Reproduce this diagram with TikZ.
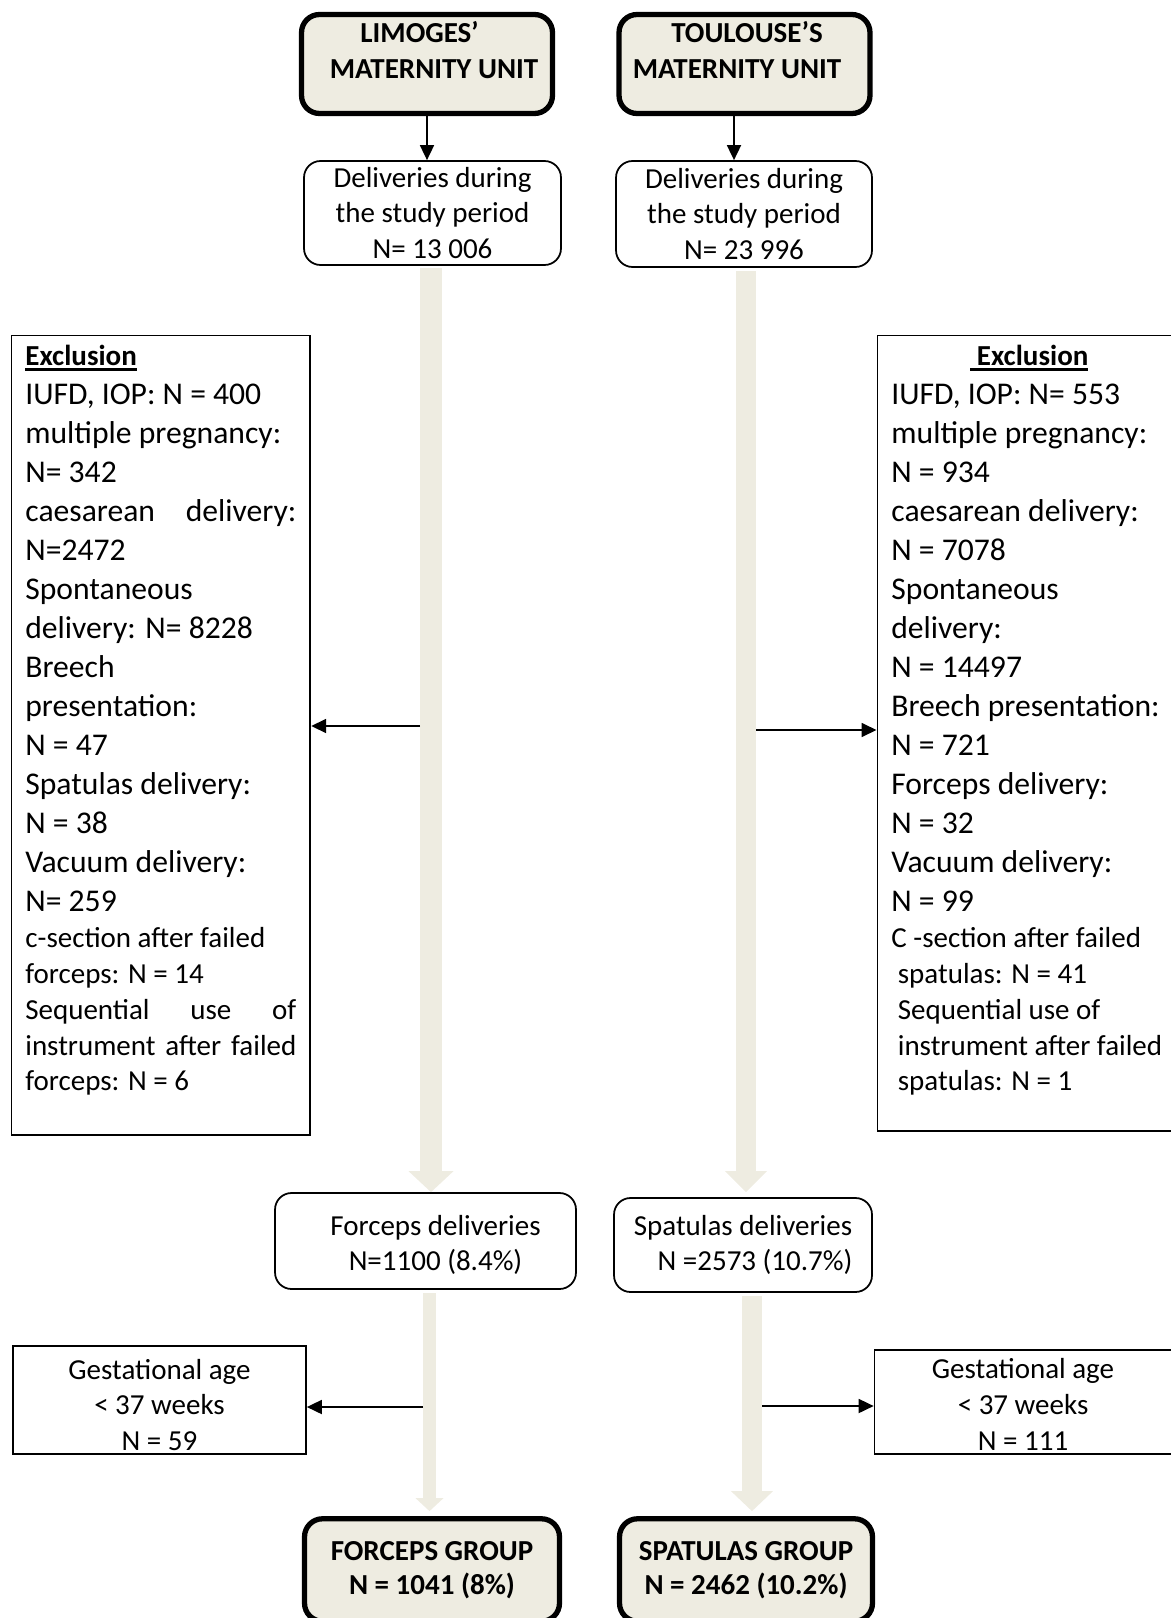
\documentclass[tikz,border=0pt]{standalone}
\usepackage{fontspec}
\setmainfont{Carlito}
\usepackage{tikz}
\usetikzlibrary{
    arrows.meta,
    positioning,
    calc
}
\definecolor{TanBg}{RGB}{238,236,225}
\newcommand{\normtxt}{\fontsize{16.5}{20.4}\selectfont}
\newcommand{\bigtxt}{\fontsize{18}{22.2}\selectfont}
\newcommand{\ttltxt}{\fontsize{16.5}{21}\selectfont\bfseries}
\newcommand{\grptxt}{\fontsize{16.5}{19.5}\selectfont\bfseries}
\newcommand{\jline}[1]{\makebox[\linewidth][s]{#1}}
\newcommand{\topstrut}[1]{\rule{0pt}{#1}}
\newcommand{\exhead}[1]{\leavevmode\setbox0=\hbox{\normtxt\textbf{#1}}%
  \rlap{\rule[-0.1cm]{\wd0}{0.05cm}}\box0}
\tikzset{
  unit/.style    = {draw, line width=3pt, rounded corners=0.36cm, fill=TanBg,
                    inner sep=0pt},
  dbox/.style    = {draw, line width=1pt, rounded corners=0.33cm, align=center,
                    inner sep=0pt, font=\normtxt},
  exbox/.style   = {draw, line width=1pt, inner xsep=0.28cm, inner ysep=0.2cm,
                    anchor=north west},
  gbox/.style    = {draw, line width=1pt, align=center, inner sep=0pt, font=\normtxt},
  grp/.style     = {draw, line width=3pt, rounded corners=0.36cm, fill=TanBg,
                    align=center, inner sep=0pt, font=\grptxt},
  thinarr/.style = {-{Triangle[length=0.3cm, width=0.28cm]}, line width=1pt},
  flow/.style n args = {3}{TanBg, line width=#1,
                    -{Triangle[length=#2, width=#3, line width=0pt]}}
}

\begin{document}
\begin{tikzpicture}[x=0.02cm, y=-0.02cm]
\useasboundingbox (0,0) rectangle (1170,1618);

% maternity units
\node[unit] (limU) at (427,64)
  {\parbox[t][1.98cm][t]{5.02cm}{\centering\ttltxt\vspace*{0.13cm}%
   \hspace*{-0.3cm}LIMOGES’\\\hspace*{0.28cm}MATERNITY UNIT}};
\node[unit] (touU) at (744.5,64)
  {\parbox[t][1.98cm][t]{5.02cm}{\centering\ttltxt\vspace*{0.13cm}%
   \hspace*{0.1cm}TOULOUSE’S\\\hspace*{-0.3cm}MATERNITY UNIT}};

\node[dbox, minimum width=5.14cm, minimum height=2.08cm] (delL) at (432.5,213)
  {Deliveries during\\the study period\\N= 13 006};
\node[dbox, minimum width=5.12cm, minimum height=2.12cm] (delT) at (744,214)
  {Deliveries during\\the study period\\N= 23 996};

\draw[thinarr] (limU.south) -- (limU.south |- delL.north);
\draw[thinarr] ([xshift=-0.21cm]touU.south) -- ([xshift=-0.21cm]touU.south |- delT.north);

% exclusions
\node[exbox] (exL) at (10.5,334.5)
  {\parbox[t][15.6cm][t]{5.42cm}{\raggedright
   \exhead{Exclusion}\par
   \bigtxt
   IUFD, IOP: N = 400\par
   multiple pregnancy:\par
   N= 342\par
   \jline{caesarean delivery:}\par
   N=2472\par
   Spontaneous\par
   delivery: N= 8228\par
   Breech\par
   presentation:\par
   N = 47\par
   Spatulas delivery:\par
   N = 38\par
   Vacuum delivery:\par
   N= 259\par
   \normtxt
   c-section after failed\par
   forceps: N = 14\par
   \jline{Sequential use of}\par
   \jline{instrument after failed}\par
   forceps: N = 6\par}};
\node[exbox] (exR) at (876.5,334.5)
  {\parbox[t][15.52cm][t]{5.66cm}{\raggedright
   \hspace*{1.58cm}\exhead{\ Exclusion}\par
   \bigtxt
   IUFD, IOP: N= 553\par
   multiple pregnancy:\par
   N = 934\par
   caesarean delivery:\par
   N = 7078\par
   Spontaneous\par
   delivery:\par
   N = 14497\par
   Breech presentation:\par
   N = 721\par
   Forceps delivery:\par
   N = 32\par
   Vacuum delivery:\par
   N = 99\par
   \normtxt
   C -section after failed\par
   \hspace*{0.13cm}spatulas: N = 41\par
   \hspace*{0.13cm}Sequential use of\par
   \hspace*{0.13cm}instrument after failed\par
   \hspace*{0.13cm}spatulas: N = 1\par}};

% instrumental deliveries
\node[dbox, minimum width=6.02cm, minimum height=1.92cm] (forL) at (425.5,1241)
  {\topstrut{0.56cm}\hspace*{0.4cm}Forceps deliveries\\\hspace*{0.4cm}N=1100 (8.4\%)};
\node[dbox, minimum width=5.16cm, minimum height=1.88cm] (spaD) at (743,1245)
  {Spatulas deliveries\\\hspace*{0.48cm}N =2573 (10.7\%)};

\draw[flow={0.44cm}{0.42cm}{0.9cm}]
  ([xshift=-0.03cm, yshift=-0.04cm]delL.south) -- ([xshift=-0.03cm]delL.south |- forL.north);
\draw[flow={0.40cm}{0.42cm}{0.84cm}]
  ([xshift=0.04cm, yshift=-0.06cm]delT.south) -- ([xshift=0.04cm, yshift=0.1cm]delT.south |- spaD.north);

\coordinate (cutL) at (420,726);
\coordinate (cutR) at (756,730);
\draw[thinarr] (cutL) -- (cutL -| exL.east);
\draw[thinarr] (cutR) -- (cutR -| exR.west);

% gestational age
\node[gbox, minimum width=5.86cm, minimum height=2.16cm] (gsL) at (159.5,1400)
  {\topstrut{0.6cm}Gestational age\\< 37 weeks\\N = 59};
\node[gbox, minimum width=5.94cm, minimum height=2.08cm] (gsR) at (1023,1402)
  {\topstrut{0.5cm}Gestational age\\< 37 weeks\\N = 111};

% groups
\node[grp, minimum width=5.1cm, minimum height=2.05cm] (fgrp) at (432,1570)
  {FORCEPS GROUP\\N = 1041 (8\%)};
\node[grp, minimum width=5.06cm, minimum height=2.05cm] (sgrp) at (746,1570)
  {SPATULAS GROUP\\N = 2462 (10.2\%)};

\draw[flow={0.26cm}{0.26cm}{0.56cm}]
  ([xshift=0.08cm, yshift=-0.06cm]forL.south) -- ([xshift=0.08cm, yshift=0.1cm]forL.south |- fgrp.north);
\draw[flow={0.40cm}{0.40cm}{0.84cm}]
  ([xshift=0.18cm, yshift=-0.06cm]spaD.south) -- ([xshift=0.18cm, yshift=0.1cm]spaD.south |- sgrp.north);

\coordinate (gaL) at (423,1407);
\coordinate (gaR) at (762,1406);
\draw[thinarr] (gaL) -- (gaL -| gsL.east);
\draw[thinarr] (gaR) -- (gaR -| gsR.west);
\end{tikzpicture}
\end{document}
